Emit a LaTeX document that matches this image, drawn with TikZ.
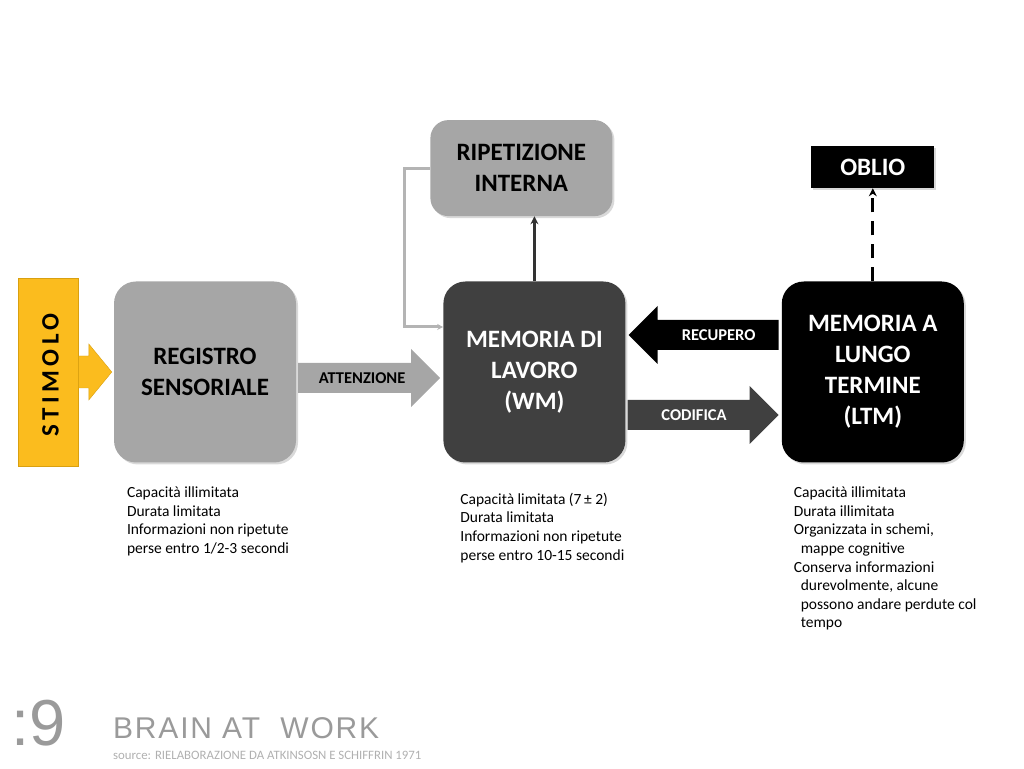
\documentclass[tikz,border=0pt]{standalone}
\usepackage{fontspec}
\setmainfont{Carlito}
\newfontfamily\footfont{Liberation Sans}
\newfontfamily\brandfont[LetterSpace=6]{Liberation Sans}
\newfontfamily\stimfont[LetterSpace=18]{Carlito}
\usetikzlibrary{arrows.meta, positioning, calc, shadows}

\definecolor{stimyellow}{HTML}{FBBC1E}
\definecolor{stimedge}{HTML}{D9A010}
\definecolor{boxgray}{HTML}{A6A6A6}
\definecolor{wmgray}{HTML}{404040}
\definecolor{loopgray}{HTML}{B4B4B4}
\definecolor{linkgray}{HTML}{333333}
\definecolor{footgray}{HTML}{9A9A9A}
\definecolor{srcgray}{HTML}{B0B0B0}

% block arrow: fill colour, tail, tip (horizontal)
\newcommand{\blockarrow}[3]{%
  \fill[#1] let \p1=(#2), \p2=(#3), \n1={sign(\x2-\x1)} in
    (\x1,\y1+15pt) -- (\x2-\n1*29pt,\y1+15pt) -- (\x2-\n1*29pt,\y1+29pt)
    -- (\x2,\y1) -- (\x2-\n1*29pt,\y1-29pt) -- (\x2-\n1*29pt,\y1-15pt)
    -- (\x1,\y1-15pt) -- cycle;}

\begin{document}
\begin{tikzpicture}[
  x=1pt, y=1pt,
  memorybox/.style={
    rounded corners=22pt,
    minimum width=182pt,
    minimum height=181pt,
    align=center,
    inner sep=0pt,
    font=\bfseries\fontsize{25}{31}\selectfont,
    drop shadow={shadow xshift=2pt, shadow yshift=-2pt, opacity=0.3}
  },
  graybox/.style={memorybox, fill=boxgray, text=black},
  darkbox/.style={memorybox, fill=wmgray, text=white},
  blackbox/.style={memorybox, fill=black, text=white},
  stimbox/.style={
    rectangle,
    fill=stimyellow,
    draw=stimedge,
    minimum width=60pt,
    minimum height=188pt,
    inner sep=0pt
  },
  arrowlabel/.style={font=\bfseries\fontsize{16.5}{16.5}\selectfont, inner sep=0pt},
  desc/.style={anchor=north west, align=left, inner sep=0pt,
    font=\fontsize{15.5}{18.6}\selectfont},
  linkarrow/.style={-{Stealth[length=8pt, width=8pt]}, line width=3pt, draw=linkgray},
  looparrow/.style={-{Stealth[length=6pt, width=6pt]}, line width=3pt, draw=loopgray},
  dasharrow/.style={-{Stealth[length=8pt, width=8pt]}, line width=3pt,
    dash pattern=on 14pt off 9pt}
]
\useasboundingbox (0,0) rectangle (1024,768);

% ------------------------------------------------------------
% Memory stores
% ------------------------------------------------------------

\node[graybox] (reg) at (205,396) {REGISTRO\\SENSORIALE};
\node[darkbox, right=147pt of reg] (wm) {MEMORIA DI\\LAVORO\\(WM)};
\node[blackbox, right=156pt of wm] (ltm) {MEMORIA A\\LUNGO\\TERMINE\\(LTM)};

\node[graybox, minimum height=96pt, rounded corners=18pt,
  above=65pt of wm, xshift=-13pt] (rip) {RIPETIZIONE\\INTERNA};
\node[blackbox, sharp corners, minimum width=123pt, minimum height=42pt,
  above=93pt of ltm] (oblio) {OBLIO};

% ------------------------------------------------------------
% Stimulus
% ------------------------------------------------------------

\node[stimbox, left=35pt of reg] (stim) {};
\node[rotate=90, text=black, font=\stimfont\bfseries\fontsize{25}{25}\selectfont]
  (stimtext) at ([xshift=2pt,yshift=-3pt]stim.center) {STIMOLO};
\filldraw[fill=stimyellow, draw=stimedge]
  ([yshift=16pt]stim.east) -- ++(10,0) -- ++(0,12) -- ([xshift=-2pt]reg.west)
  -- ([xshift=10pt,yshift=-28pt]stim.east) -- ++(0,12) -- ([yshift=-16pt]stim.east);

% ------------------------------------------------------------
% Transfers between stores
% ------------------------------------------------------------

\coordinate (atttail) at ([xshift=2pt,yshift=-6pt]reg.east);
\coordinate (atttip) at ([xshift=-3pt,yshift=-6pt]wm.west);
\blockarrow{boxgray}{atttail}{atttip}
\node[arrowlabel, text=black] (attlabel) at ($(atttail)!0.45!(atttip)$) {ATTENZIONE};

\coordinate (rectail) at ([xshift=-3pt,yshift=37pt]ltm.west);
\coordinate (rectip) at ([xshift=3pt,yshift=37pt]wm.east);
\blockarrow{black}{rectail}{rectip}
\node[arrowlabel, text=white] (reclabel) at ($(rectail)!0.4!(rectip)$) {RECUPERO};

\coordinate (codtail) at ([xshift=2pt,yshift=-43pt]wm.east);
\coordinate (codtip) at ([xshift=-3pt,yshift=-43pt]ltm.west);
\blockarrow{wmgray}{codtail}{codtip}
\node[arrowlabel, text=white] (codlabel) at ($(codtail)!0.44!(codtip)$) {CODIFICA};

\draw[linkarrow] (wm.north) -- (wm.north |- rip.south);
\draw[looparrow] (rip.west) -- ++(-26,0) |- ([yshift=45pt]wm.west);
\draw[dasharrow] (ltm.north) -- (oblio.south);

% ------------------------------------------------------------
% Notes under the stores
% ------------------------------------------------------------

\node[desc] (regdesc) at ([xshift=13pt,yshift=-24pt]reg.south west)
  {Capacità illimitata\\Durata limitata\\Informazioni non ripetute\\perse entro 1/2-3 secondi};
\node[desc] (wmdesc) at ([xshift=17pt,yshift=-30pt]wm.south west)
  {Capacità limitata (7\,±\ 2)\\Durata limitata\\Informazioni non ripetute\\perse entro 10-15 secondi};
\node[desc] (ltmdesc) at ([xshift=12pt,yshift=-24pt]ltm.south west)
  {Capacità illimitata\\Durata illimitata\\Organizzata in schemi,\\\hspace*{7pt}mappe cognitive\\
   Conserva informazioni\\\hspace*{7pt}durevolmente, alcune\\\hspace*{7pt}possono andare perdute col\\\hspace*{7pt}tempo};

% ------------------------------------------------------------
% Footer
% ------------------------------------------------------------

\node[anchor=base west, inner sep=0pt, text=footgray,
  font=\footfont\fontsize{65}{65}\selectfont] (pagenum) at (11,23) {:9};
\node[anchor=base west, inner sep=0pt, text=footgray,
  font=\brandfont\fontsize{30}{30}\selectfont] (brand) at (113,30) {BRAIN AT\ \ WORK};
\node[anchor=base west, inner sep=0pt, text=srcgray,
  font=\fontsize{12.8}{12.8}\selectfont] (source) at (113,9)
  {source: RIELABORAZIONE DA ATKINSOSN E SCHIFFRIN 1971};

\end{tikzpicture}
\end{document}
